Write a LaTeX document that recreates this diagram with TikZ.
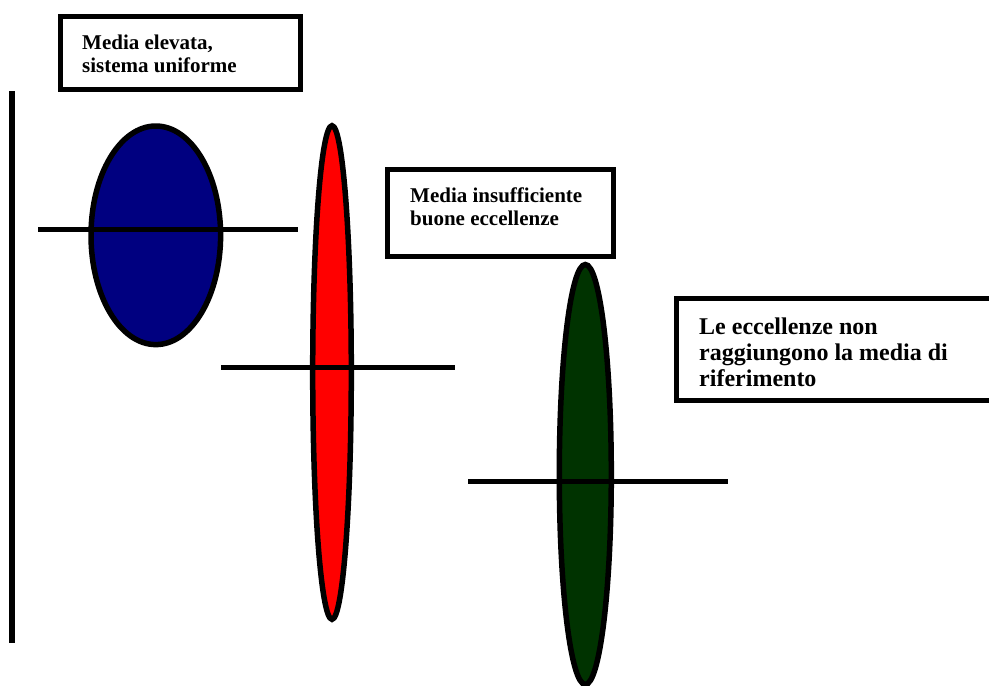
\documentclass[tikz,border=0pt]{standalone}
\usepackage{fontspec}
\setmainfont{Liberation Serif}
\definecolor{navyfill}{RGB}{0,0,128}
\definecolor{redfill}{RGB}{255,0,0}
\definecolor{greenfill}{RGB}{0,51,0}
\tikzset{
  blob/.style={draw=black, line width=5.5pt},
  bar/.style={draw=black, line width=5pt},
  boxframe/.style={draw=black, line width=5pt, fill=white},
  smalltxt/.style={inner sep=0pt, anchor=base west, align=left, font=\bfseries\fontsize{21}{23.4}\selectfont},
  bigtxt/.style={inner sep=0pt, anchor=base west, align=left, font=\bfseries\fontsize{24}{25.9}\selectfont}
}
\begin{document}
\begin{tikzpicture}[x=1pt,y=-1pt]
\useasboundingbox (0,0) rectangle (989,686);
\clip (0,0) rectangle (989,686);
\fill[white] (0,0) rectangle (989,686);
% axis
\coordinate (axtop) at (12,91);
\coordinate (axbot) at (12,643);
\draw[bar, line width=5.5pt] (axtop) -- (axbot);
% ellipses
\path[blob, fill=navyfill] (155.8,235.3) ellipse [x radius=64.8, y radius=109.3];
\coordinate (b1l) at (38,229.5); \coordinate (b1r) at (298,229.5);
\draw[bar] (b1l) -- (b1r);
\path[blob, fill=redfill] (332,372.5) ellipse [x radius=19.3, y radius=246.8];
\coordinate (b2l) at (221,367.7); \coordinate (b2r) at (455,367.7);
\draw[bar] (b2l) -- (b2r);
\path[blob, fill=greenfill] (585.3,474.5) ellipse [x radius=26, y radius=210];
\coordinate (b3l) at (468,481.7); \coordinate (b3r) at (728,481.7);
\draw[bar] (b3l) -- (b3r);
% boxes
\path[boxframe] (60.5,16.5) rectangle (300,89.5);
\node[smalltxt] (t1) at (82,72.7) {Media elevata,\\sistema uniforme};
\path[boxframe] (387.5,169.8) rectangle (613.5,256.5);
\node[smalltxt] (t2) at (410,225.7) {Media insufficiente\\buone eccellenze};
\path[boxframe] (676.5,298.5) rectangle (1000,400.5);
\node[bigtxt] (t3) at (699,386.7) {Le eccellenze non\\raggiungono la media di\\riferimento};
\end{tikzpicture}
\end{document}
